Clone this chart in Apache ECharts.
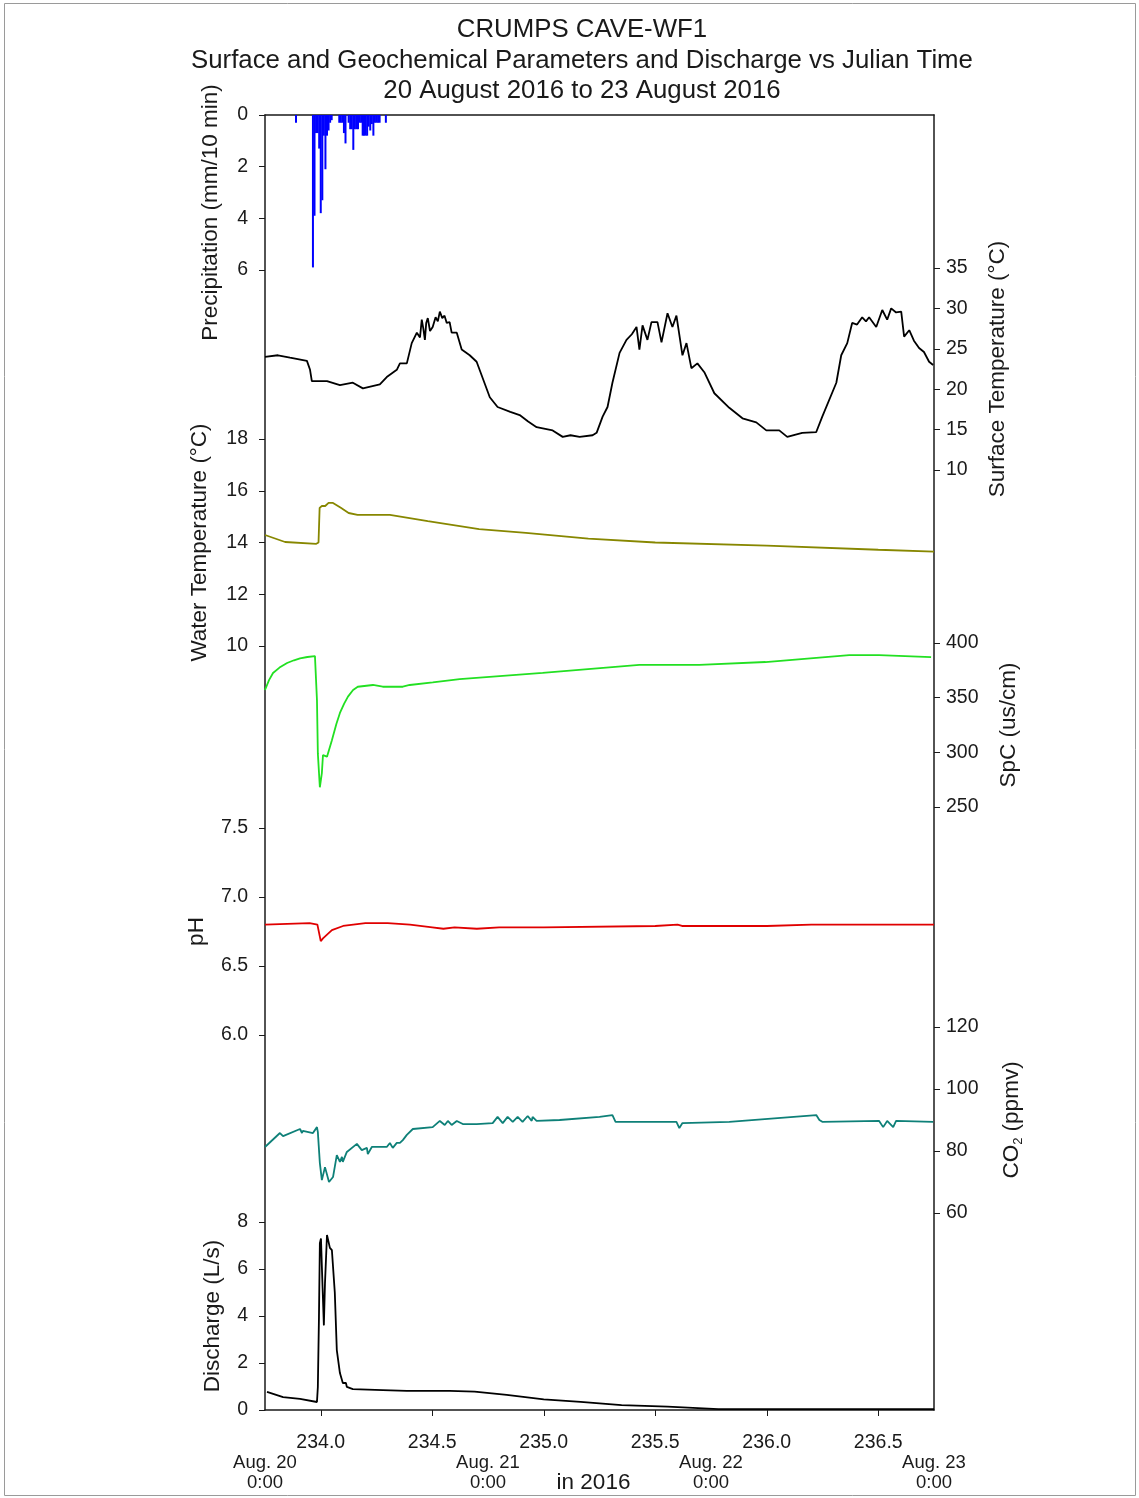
<!DOCTYPE html>
<html>
<head>
<meta charset="utf-8">
<title>CRUMPS CAVE-WF1</title>
<script src="https://cdn.jsdelivr.net/npm/echarts@6/dist/echarts.min.js"></script>
<style>
  html, body { margin: 0; padding: 0; background: #fff; }
  #chart { width: 1139px; height: 1498px; }
</style>
</head>
<body>
<div id="chart"></div>
<script>
// ---- Time axis (Julian day, 2016) ----
const dayMin = 233.75;
const dayMax = 236.75;
const julianTicks = [234.0, 234.5, 235.0, 235.5, 236.0, 236.5];
const dateTickPos = [233.75, 234.75, 235.75, 236.75];
const dateTickLabels = ['Aug. 20\n0:00', 'Aug. 21\n0:00', 'Aug. 22\n0:00', 'Aug. 23\n0:00'];

// ---- Precipitation (mm / 10 min) ----
const precipT = [233.889, 233.965, 233.972, 233.979, 233.986, 233.993, 234.000, 234.007, 234.014, 234.021,
  234.028, 234.035, 234.042, 234.049, 234.083, 234.090, 234.097, 234.104, 234.111, 234.125,
  234.132, 234.139, 234.146, 234.153, 234.160, 234.167, 234.174, 234.181, 234.188, 234.194,
  234.201, 234.208, 234.215, 234.222, 234.229, 234.236, 234.243, 234.250, 234.257, 234.264, 234.292];
const precipMm = [0.3, 5.9, 3.9, 0.7, 0.7, 1.3, 3.8, 3.3, 0.8, 2.1,
  0.8, 0.6, 0.3, 0.2, 0.3, 0.3, 0.3, 0.7, 1.1, 0.3,
  0.55, 0.55, 1.35, 0.55, 0.55, 0.55, 0.3, 0.3, 0.8, 0.8,
  0.8, 0.8, 0.45, 0.6, 0.35, 0.8, 0.3, 0.3, 0.3, 0.3, 0.3];

// ---- Surface temperature (°C) ----
const surfT = [233.750, 233.808, 233.862, 233.938, 233.952, 233.960, 234.028, 234.086, 234.144, 234.189,
  234.265, 234.296, 234.341, 234.355, 234.386, 234.408, 234.431, 234.445, 234.453, 234.460, 234.467, 234.473, 234.480,
  234.490, 234.502, 234.515, 234.525, 234.534, 234.545, 234.555, 234.565, 234.578, 234.587, 234.610, 234.632, 234.668, 234.699, 234.758,
  234.793, 234.850, 234.892, 234.930, 234.968, 235.040, 235.085, 235.120, 235.161, 235.219, 235.237, 235.264, 235.286,
  235.308, 235.340, 235.371, 235.395, 235.416, 235.429, 235.443, 235.465, 235.483, 235.510, 235.528,
  235.555, 235.577, 235.595, 235.622, 235.640, 235.662, 235.689, 235.720, 235.765, 235.832,
  235.891, 235.953, 235.998, 236.056, 236.092, 236.159, 236.222, 236.249, 236.312, 236.334,
  236.361, 236.383, 236.405, 236.428, 236.445, 236.459, 236.491, 236.518, 236.540, 236.558, 236.580, 236.603, 236.616,
  236.639, 236.660, 236.683, 236.705, 236.728, 236.746];
const surfC = [24.0, 24.2, 23.9, 23.5, 22.4, 21.0, 21.0, 20.5, 20.8, 20.1,
  20.6, 21.5, 22.4, 23.2, 23.2, 25.7, 27.0, 26.4, 28.6, 27.5, 26.1, 28.2, 28.8,
  27.2, 27.7, 28.9, 28.4, 29.6, 28.8, 29.1, 28.2, 28.3, 27.0, 27.0, 24.9, 24.2, 23.4, 19.0,
  17.8, 17.2, 16.8, 16.0, 15.3, 14.9, 14.1, 14.3, 14.1, 14.3, 14.6, 16.6, 17.8,
  20.8, 24.5, 26.1, 26.8, 27.7, 24.9, 27.9, 26.1, 28.3, 28.3, 25.8,
  29.4, 27.7, 29.1, 24.2, 25.7, 22.6, 23.2, 22.1, 19.5, 17.7,
  16.4, 15.9, 14.9, 14.9, 14.1, 14.6, 14.7, 16.6, 20.8, 24.2,
  25.7, 28.2, 28.0, 28.9, 28.4, 28.9, 27.7, 29.8, 28.6, 30.0, 29.5, 29.6, 26.5,
  27.3, 26.0, 25.1, 24.6, 23.4, 23.0];

// ---- Water temperature (°C) ----
const waterT = [233.750, 233.840, 233.980, 233.990, 233.995, 234.005, 234.020, 234.035, 234.055, 234.090,
  234.125, 234.165, 234.310, 234.480, 234.710, 234.920, 235.200, 235.500, 236.000, 236.500, 236.750];
const waterC = [14.29, 14.02, 13.95, 14.00, 15.34, 15.41, 15.41, 15.53, 15.53, 15.34,
  15.14, 15.07, 15.07, 14.83, 14.52, 14.37, 14.15, 14.00, 13.88, 13.72, 13.65];

// ---- Specific conductance (µS/cm) ----
const spcT = [233.750, 233.768, 233.786, 233.815, 233.849, 233.880, 233.907, 233.940, 233.974, 233.978, 233.983, 233.987, 233.996, 234.005,
  234.010, 234.028, 234.050, 234.070, 234.086, 234.105, 234.122, 234.145, 234.166, 234.234, 234.278, 234.368, 234.399,
  234.502, 234.623, 234.995, 235.429, 235.698, 235.994, 236.370, 236.504, 236.737];
const spcV = [357, 366, 372.6, 377.5, 381.7, 384.2, 386, 387.2, 388, 387, 348, 299, 268, 281,
  297.5, 296, 311, 326, 336, 344.5, 351, 357, 360, 361.6, 360, 360, 361.6,
  364, 367, 372.6, 380, 380, 382.6, 389, 389, 387];

// ---- pH ----
const phT = [233.75, 233.95, 233.985, 234.0, 234.01, 234.05, 234.1, 234.2, 234.3, 234.4,
  234.5, 234.55, 234.6, 234.7, 234.8, 235.0, 235.5, 235.6, 235.62, 236.0, 236.2, 236.75];
const phV = [6.80, 6.81, 6.80, 6.68, 6.70, 6.76, 6.79, 6.81, 6.81, 6.80,
  6.78, 6.77, 6.78, 6.77, 6.78, 6.78, 6.79, 6.80, 6.79, 6.79, 6.80, 6.80];

// ---- CO2 (ppmv) ----
const co2T = [233.750, 233.817, 233.831, 233.907, 233.916, 233.920, 233.965, 233.983, 233.987, 233.996,
  234.005, 234.019, 234.037, 234.055, 234.072, 234.086, 234.095, 234.099, 234.117, 234.162,
  234.184, 234.207, 234.211, 234.229, 234.296, 234.310, 234.323, 234.341, 234.355, 234.368,
  234.386, 234.413, 234.502, 234.534, 234.556, 234.570, 234.587, 234.610, 234.637, 234.699,
  234.771, 234.793, 234.816, 234.838, 234.861, 234.883, 234.905, 234.928, 234.946, 234.950,
  234.968, 235.071, 235.250, 235.308, 235.322, 235.595, 235.608, 235.622, 235.832, 236.222,
  236.236, 236.249, 236.504, 236.522, 236.540, 236.567, 236.580, 236.746];
const co2V = [81.3, 85.8, 84.8, 87.1, 85.8, 86.5, 85.8, 87.7, 86.1, 76.1,
  70.6, 74.8, 70.0, 71.6, 78.7, 76.5, 78.1, 76.5, 79.7, 82.3,
  80.3, 81.0, 79.0, 81.3, 81.3, 82.6, 81.0, 82.6, 82.6, 83.5,
  85.2, 87.1, 87.7, 89.7, 88.4, 89.7, 88.4, 89.7, 88.7, 88.7,
  89.0, 91.0, 89.0, 91.0, 89.4, 91.0, 89.4, 91.3, 89.7, 91.0,
  89.7, 90.0, 91.0, 91.6, 89.4, 89.4, 87.4, 89.0, 89.4, 91.6,
  90.0, 89.4, 89.7, 87.7, 89.7, 87.7, 89.7, 89.4];

// ---- Discharge (L/s) ----
const qT = [233.759, 233.831, 233.907, 233.983, 233.987, 233.992, 233.996, 234.001, 234.005, 234.014,
  234.019, 234.028, 234.032, 234.041, 234.050, 234.063, 234.072, 234.086, 234.099, 234.113,
  234.117, 234.144, 234.278, 234.386, 234.578, 234.690, 234.834, 235.000, 235.165, 235.349,
  235.555, 235.783, 236.750];
const qV = [0.77, 0.55, 0.47, 0.34, 0.98, 3.96, 7.1, 7.3, 6.1, 3.6,
  5.4, 7.45, 7.5, 6.9, 6.8, 5.0, 2.55, 1.57, 1.15, 1.15,
  0.98, 0.89, 0.85, 0.81, 0.81, 0.78, 0.64, 0.45, 0.35, 0.21,
  0.14, 0.04, 0.04];

const zip = (a, b) => a.map((t, i) => [t, b[i]]);

// ---- Layout and styling ----
const FONT = "'Liberation Sans', Arial, sans-serif";
const INK = '#1a1a1a';
const plotLeft = 265, plotRight = 934;
const tickStyle = { show: true, length: 6, lineStyle: { color: INK, width: 1 } };
const labelLeft = { color: INK, fontSize: 19.5, fontFamily: FONT, margin: 17 };
const labelRight = { color: INK, fontSize: 19.5, fontFamily: FONT, margin: 12 };
const nameStyle = { color: INK, fontSize: 22.5, fontFamily: FONT };

// panels: [top px, bottom px]
const panels = [
  { top: 115, bottom: 270 },  // precipitation
  { top: 268, bottom: 470 },  // surface temp
  { top: 439, bottom: 646 },  // water temp
  { top: 643, bottom: 807 },  // SpC
  { top: 828, bottom: 1035 }, // pH
  { top: 1027, bottom: 1213 },// CO2
  { top: 1222, bottom: 1410 } // discharge
];

const grids = [{ left: plotLeft, width: plotRight - plotLeft, top: 115, height: 1410 - 115, outerBoundsMode: 'none', containLabel: false }]
  .concat(panels.map(p => ({ left: plotLeft, width: plotRight - plotLeft, top: p.top, height: p.bottom - p.top, outerBoundsMode: 'none', containLabel: false })));

const xAxes = [
  // frame bottom: Julian day ticks
  {
    type: 'value', gridIndex: 0, position: 'bottom', min: dayMin, max: dayMax,
    axisLine: { show: true, onZero: false, lineStyle: { color: INK, width: 1.5 } },
    axisTick: Object.assign({ customValues: julianTicks }, tickStyle),
    axisLabel: { color: INK, fontSize: 19.5, fontFamily: FONT, customValues: julianTicks, margin: 23, formatter: v => v.toFixed(1) },
    splitLine: { show: false }
  },
  // frame bottom: calendar dates
  {
    type: 'value', gridIndex: 0, position: 'bottom', min: dayMin, max: dayMax,
    axisLine: { show: false, onZero: false }, axisTick: { show: false },
    axisLabel: {
      color: INK, fontSize: 18.5, fontFamily: FONT,
      customValues: dateTickPos, margin: 43, lineHeight: 20, align: 'center',
      formatter: v => { const i = dateTickPos.findIndex(d => Math.abs(d - v) < 1e-6); return i >= 0 ? dateTickLabels[i] : ''; }
    },
    name: 'in 2016', nameLocation: 'middle', nameGap: 61, nameMoveOverlap: false,
    nameTextStyle: { color: INK, fontSize: 22.5, fontFamily: FONT, padding: [0, 12, 0, 0] },
    splitLine: { show: false }
  },
  // frame top line
  {
    type: 'value', gridIndex: 0, position: 'top', min: dayMin, max: dayMax,
    axisLine: { show: true, onZero: false, lineStyle: { color: INK, width: 1.5 } },
    axisTick: { show: false }, axisLabel: { show: false }, splitLine: { show: false }
  }
].concat(panels.map((p, i) => ({
  type: 'value', gridIndex: i + 1, min: dayMin, max: dayMax, show: false
})));

function panelY(i, opts) {
  const right = opts.position === 'right';
  return Object.assign({
    type: 'value', gridIndex: i + 1,
    axisLine: { show: false },
    axisTick: tickStyle,
    axisLabel: right ? labelRight : labelLeft,
    splitLine: { show: false },
    nameLocation: 'middle', nameRotate: 90, nameMoveOverlap: false,
    nameTextStyle: nameStyle
  }, opts);
}

const yAxes = [
  { type: 'value', gridIndex: 0, position: 'left', min: 0, max: 1,
    axisLine: { show: true, onZero: false, lineStyle: { color: INK, width: 1.5 } }, axisTick: { show: false }, axisLabel: { show: false }, splitLine: { show: false } },
  { type: 'value', gridIndex: 0, position: 'right', min: 0, max: 1,
    axisLine: { show: true, onZero: false, lineStyle: { color: INK, width: 1.5 } }, axisTick: { show: false }, axisLabel: { show: false }, splitLine: { show: false } },
  panelY(0, { position: 'left', inverse: true, min: 0, max: 6, interval: 2, name: 'Precipitation (mm/10 min)', nameGap: 43,
    nameTextStyle: Object.assign({}, nameStyle, { padding: [0, 40, 0, 0] }) }),
  panelY(1, { position: 'right', min: 10, max: 35, interval: 5, name: 'Surface Temperature (°C)', nameGap: 52 }),
  panelY(2, { position: 'left', min: 10, max: 18, interval: 2, name: 'Water Temperature (°C)', nameGap: 54 }),
  panelY(3, { position: 'right', min: 250, max: 400, interval: 50, name: 'SpC (us/cm)', nameGap: 63 }),
  panelY(4, { position: 'left', min: 6.0, max: 7.5, interval: 0.5, name: 'pH', nameGap: 57,
    axisLabel: Object.assign({}, labelLeft, { formatter: v => v.toFixed(1) }) }),
  panelY(5, { position: 'right', min: 60, max: 120, interval: 20, nameGap: 65,
    name: '{n|CO}{s|2}{n| (ppmv)}',
    nameTextStyle: Object.assign({}, nameStyle, {
      rich: {
        n: { fontSize: 22.5, fontFamily: FONT, color: INK, lineHeight: 26 },
        s: { fontSize: 13, fontFamily: FONT, color: INK, lineHeight: 26, padding: [13, 0, 0, 0] }
      }
    }) }),
  panelY(6, { position: 'left', min: 0, max: 8, interval: 2, name: 'Discharge (L/s)', nameGap: 41 })
];

function lineSeries(i, t, v, color) {
  return {
    type: 'line', xAxisIndex: i + 3, yAxisIndex: i + 2, data: zip(t, v),
    showSymbol: false, symbol: 'none', clip: true, animation: false,
    lineStyle: { color: color, width: 1.8 }, z: 3
  };
}

const series = [
  {
    type: 'bar', xAxisIndex: 3, yAxisIndex: 2, data: zip(precipT, precipMm),
    barWidth: 2, itemStyle: { color: '#0000ff' }, animation: false
  },
  lineSeries(1, surfT, surfC, '#000000'),
  lineSeries(2, waterT, waterC, '#878700'),
  lineSeries(3, spcT, spcV, '#22e022'),
  lineSeries(4, phT, phV, '#e00000'),
  lineSeries(5, co2T, co2V, '#0e8078'),
  lineSeries(6, qT, qV, '#000000')
];

const chart = echarts.init(document.getElementById('chart'), null, { renderer: 'canvas' });
chart.setOption({
  backgroundColor: '#ffffff',
  animation: false,
  title: {
    text: 'CRUMPS CAVE-WF1\nSurface and Geochemical Parameters and Discharge vs Julian Time\n20 August 2016 to 23 August 2016',
    left: 577, top: 10, textAlign: 'center',
    textStyle: { color: INK, fontSize: 25.8, fontWeight: 'normal', fontFamily: FONT, lineHeight: 30.5 }
  },
  graphic: [{
    type: 'rect', silent: true, z: -1,
    shape: { x: 4.5, y: 3.5, width: 1131, height: 1492 },
    style: { fill: 'none', stroke: '#9a9a9a', lineWidth: 1 }
  }],
  grid: grids,
  xAxis: xAxes,
  yAxis: yAxes,
  series: series
});
</script>
</body>
</html>
